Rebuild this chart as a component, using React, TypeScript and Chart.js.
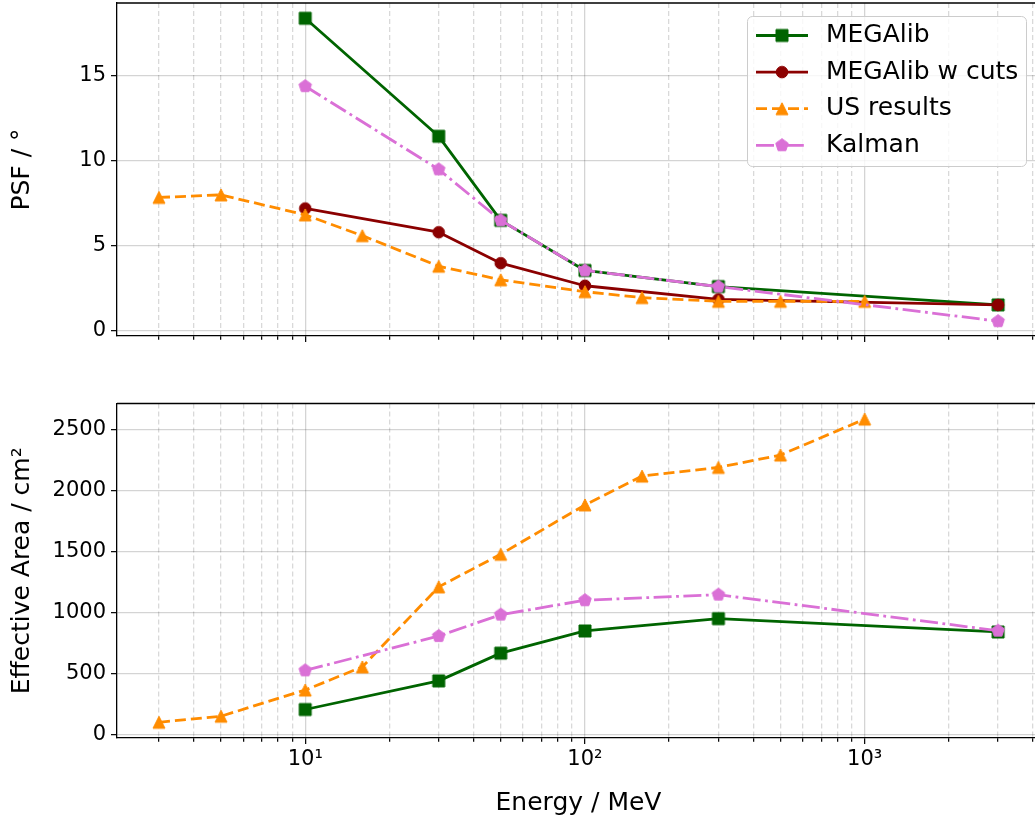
import { useEffect, useRef } from 'react';
import { Chart, registerables } from 'chart.js';

Chart.register(...registerables);

// Energies (MeV) at which each series was evaluated
const US_ENERGY = [3, 5, 10, 16, 30, 50, 100, 160, 300, 500, 1000];
const SIM_ENERGY = [10, 30, 50, 100, 300, 3000];

// PSF (degrees)
const MEGALIB_PSF = [18.4, 11.45, 6.5, 3.55, 2.6, 1.52];
const MEGALIB_CUTS_PSF = [7.2, 5.8, 3.98, 2.65, 1.85, 1.52];
const US_PSF = [7.85, 8.0, 6.82, 5.6, 3.8, 3.0, 2.3, 1.95, 1.73, 1.73, 1.73];
const KALMAN_PSF = [14.4, 9.5, 6.5, 3.55, 2.6, 0.56];

// Effective area (cm²)
const MEGALIB_AREA = [205, 440, 668, 850, 951, 842];
const US_AREA = [100, 150, 365, 555, 1212, 1480, 1885, 2122, 2193, 2295, 2590];
const KALMAN_AREA = [526, 808, 984, 1102, 1148, 852];

// Axis ticks
const X_TICKS = [
  3, 4, 5, 6, 7, 8, 9,
  10, 20, 30, 40, 50, 60, 70, 80, 90,
  100, 200, 300, 400, 500, 600, 700, 800, 900,
  1000, 2000, 3000, 4000,
];
const X_MAJOR = [10, 100, 1000];
const X_MAJOR_LABELS = ['10¹', '10²', '10³'];
const PSF_TICKS = [0, 5, 10, 15];
const AREA_TICKS = [0, 500, 1000, 1500, 2000, 2500];

// Axis ranges
const X_MIN = 2.1232;
const X_MAX = 4236;
const PSF_MIN = -0.31;
const PSF_MAX = 19.3;
const AREA_MIN = -29;
const AREA_MAX = 2718;

const FONT = 'DejaVu Sans';
const TICK_SIZE = 21;
const LABEL_SIZE = 25;
const GREEN = '#006400';
const DARKRED = '#8b0000';
const ORANGE = '#ff8c00';
const ORCHID = '#da70d6';
const GRID_MAJOR = 'rgba(0,0,0,0.17)';
const GRID_MINOR = 'rgba(0,0,0,0.15)';
const SPINE = 1.3;
const LINE_WIDTH = 2.8;
const DASHED = [11, 5];
const DASH_DOT = [18, 4.5, 2.8, 4.5];

type Shape = 'square' | 'circle' | 'triangle' | 'pentagon';

function markerCanvas(shape: Shape, color: string): HTMLCanvasElement {
  const c = document.createElement('canvas');
  c.width = 18;
  c.height = 18;
  const g = c.getContext('2d')!;
  const cx = 9;
  const cy = 9;
  g.fillStyle = color;
  g.strokeStyle = color;
  g.lineWidth = 1;
  g.beginPath();
  if (shape === 'square') {
    g.rect(cx - 6, cy - 6, 12, 12);
  } else if (shape === 'circle') {
    g.arc(cx, cy, 5.8, 0, Math.PI * 2);
  } else if (shape === 'triangle') {
    g.moveTo(cx, cy - 6);
    g.lineTo(cx + 6, cy + 6);
    g.lineTo(cx - 6, cy + 6);
    g.closePath();
  } else {
    for (let k = 0; k < 5; k++) {
      const a = (-90 + 72 * k) * (Math.PI / 180);
      const px = cx + 6.6 * Math.cos(a);
      const py = cy + 6.6 * Math.sin(a);
      if (k === 0) g.moveTo(px, py);
      else g.lineTo(px, py);
    }
    g.closePath();
  }
  g.fill();
  g.stroke();
  return c;
}

function points(xs: number[], ys: number[]) {
  return xs.map((x, i) => ({ x, y: ys[i] }));
}

function isMajorX(v: number) {
  return X_MAJOR.includes(v);
}

function xScale(showLabels: boolean, axisHeight: number) {
  return {
    type: 'logarithmic' as const,
    min: X_MIN,
    max: X_MAX,
    afterBuildTicks: (s: any) => {
      s.ticks = X_TICKS.map((v) => ({ value: v, major: isMajorX(v) }));
    },
    afterFit: (s: any) => {
      s.height = axisHeight;
      s.paddingLeft = 0;
      s.paddingRight = 0;
    },
    ticks: {
      display: showLabels,
      autoSkip: false,
      maxRotation: 0,
      minRotation: 0,
      padding: 3,
      color: '#000',
      font: { family: FONT, size: TICK_SIZE },
      callback: (v: any) => {
        const i = X_MAJOR.indexOf(Number(v));
        return i >= 0 ? X_MAJOR_LABELS[i] : '';
      },
    },
    grid: {
      color: (c: any) => (c.tick && isMajorX(c.tick.value) ? GRID_MAJOR : GRID_MINOR),
      lineWidth: 1.3,
      drawTicks: true,
      tickLength: 6,
      tickWidth: 1.2,
      tickColor: '#000',
      tickBorderDash: (c: any) => (c.tick && isMajorX(c.tick.value) ? [] : [3.5, 60]),
    },
    border: {
      display: true,
      color: '#000',
      width: SPINE,
      dash: (c: any) => (c.tick && !isMajorX(c.tick.value) ? [5, 3] : []),
    },
    title: showLabels
      ? {
          display: true,
          text: 'Energy / MeV',
          color: '#000',
          font: { family: FONT, size: LABEL_SIZE },
          padding: { top: 0, bottom: 2 },
        }
      : { display: false },
  };
}

function yScale(min: number, max: number, ticks: number[], title: string) {
  return {
    type: 'linear' as const,
    min,
    max,
    afterBuildTicks: (s: any) => {
      s.ticks = ticks.map((v) => ({ value: v }));
    },
    afterFit: (s: any) => {
      s.width = 117;
      s.paddingTop = 0;
      s.paddingBottom = 0;
    },
    ticks: {
      color: '#000',
      padding: 5,
      font: { family: FONT, size: TICK_SIZE },
      callback: (v: any) => String(v),
    },
    grid: {
      color: GRID_MAJOR,
      lineWidth: 1.3,
      tickLength: 6,
      tickWidth: 1.2,
      tickColor: '#000',
    },
    border: { display: true, color: '#000', width: SPINE },
    title: {
      display: true,
      text: title,
      color: '#000',
      font: { family: FONT, size: LABEL_SIZE },
      padding: { top: 7, bottom: 0 },
    },
  };
}

// Top and right frame lines of the plot area
const framePlugin = {
  id: 'frame',
  afterDatasetsDraw(chart: any) {
    const { ctx, chartArea: a } = chart;
    ctx.save();
    ctx.strokeStyle = '#000';
    ctx.lineWidth = SPINE;
    ctx.beginPath();
    ctx.moveTo(a.left, a.top);
    ctx.lineTo(a.right, a.top);
    ctx.lineTo(a.right, a.bottom);
    ctx.stroke();
    ctx.restore();
  },
};

// Legend box in the upper right of the PSF panel
const legendPlugin = {
  id: 'insetLegend',
  afterDraw(chart: any) {
    const { ctx } = chart;
    const x0 = 747.5;
    const y0 = 16.5;
    const w = 279;
    const h = 150;
    const r = 5;
    ctx.save();
    ctx.beginPath();
    ctx.moveTo(x0 + r, y0);
    ctx.lineTo(x0 + w - r, y0);
    ctx.arcTo(x0 + w, y0, x0 + w, y0 + r, r);
    ctx.lineTo(x0 + w, y0 + h - r);
    ctx.arcTo(x0 + w, y0 + h, x0 + w - r, y0 + h, r);
    ctx.lineTo(x0 + r, y0 + h);
    ctx.arcTo(x0, y0 + h, x0, y0 + h - r, r);
    ctx.lineTo(x0, y0 + r);
    ctx.arcTo(x0, y0, x0 + r, y0, r);
    ctx.closePath();
    ctx.fillStyle = 'rgba(255,255,255,0.8)';
    ctx.fill();
    ctx.strokeStyle = '#cccccc';
    ctx.lineWidth = 1;
    ctx.stroke();

    chart.data.datasets.forEach((ds: any, i: number) => {
      const cy = 35.5 + i * 36.6;
      ctx.strokeStyle = ds.borderColor;
      ctx.lineWidth = ds.borderWidth;
      ctx.setLineDash(ds.borderDash || []);
      ctx.beginPath();
      ctx.moveTo(756, cy);
      ctx.lineTo(808, cy);
      ctx.stroke();
      ctx.setLineDash([]);
      const img = ds.pointStyle as HTMLCanvasElement;
      ctx.drawImage(img, 782 - img.width / 2, cy - img.height / 2);
      ctx.fillStyle = '#000';
      ctx.font = `${LABEL_SIZE}px "${FONT}"`;
      ctx.textBaseline = 'middle';
      ctx.textAlign = 'left';
      ctx.fillText(ds.label, 826, cy);
    });
    ctx.restore();
  },
};

function series(label: string, data: any[], color: string, marker: HTMLCanvasElement, order: number, dash: number[]) {
  return {
    label,
    data,
    borderColor: color,
    backgroundColor: color,
    borderWidth: LINE_WIDTH,
    borderDash: dash,
    borderJoinStyle: 'round' as const,
    pointStyle: marker,
    pointRadius: 6,
    pointHoverRadius: 6,
    tension: 0,
    fill: false,
    order,
  };
}

export default function App() {
  const topRef = useRef<HTMLCanvasElement>(null);
  const bottomRef = useRef<HTMLCanvasElement>(null);

  useEffect(() => {
    const mSquare = markerCanvas('square', GREEN);
    const mCircle = markerCanvas('circle', DARKRED);
    const mTriangle = markerCanvas('triangle', ORANGE);
    const mPentagon = markerCanvas('pentagon', ORCHID);

    const common = {
      responsive: false,
      animation: false as const,
      devicePixelRatio: 1,
      events: [] as any[],
      plugins: { legend: { display: false }, tooltip: { enabled: false } },
    };

    const top = new Chart(topRef.current!, {
      type: 'line',
      data: {
        datasets: [
          series('MEGAlib', points(SIM_ENERGY, MEGALIB_PSF), GREEN, mSquare, 4, []),
          series('MEGAlib w cuts', points(SIM_ENERGY, MEGALIB_CUTS_PSF), DARKRED, mCircle, 3, []),
          series('US results', points(US_ENERGY, US_PSF), ORANGE, mTriangle, 2, DASHED),
          series('Kalman', points(SIM_ENERGY, KALMAN_PSF), ORCHID, mPentagon, 1, DASH_DOT),
        ],
      },
      options: {
        ...common,
        layout: { autoPadding: false, padding: { top: 3, right: 10, bottom: 0, left: 0 } },
        scales: {
          x: xScale(false, 9) as any,
          y: yScale(PSF_MIN, PSF_MAX, PSF_TICKS, 'PSF / °') as any,
        },
      } as any,
      plugins: [framePlugin, legendPlugin],
    });

    const bottom = new Chart(bottomRef.current!, {
      type: 'line',
      data: {
        datasets: [
          series('MEGAlib', points(SIM_ENERGY, MEGALIB_AREA), GREEN, mSquare, 4, []),
          series('US results', points(US_ENERGY, US_AREA), ORANGE, mTriangle, 2, DASHED),
          series('Kalman', points(SIM_ENERGY, KALMAN_AREA), ORCHID, mPentagon, 1, DASH_DOT),
        ],
      },
      options: {
        ...common,
        layout: { autoPadding: false, padding: { top: 58.5, right: 10, bottom: 0, left: 0 } },
        scales: {
          x: xScale(true, 82) as any,
          y: yScale(AREA_MIN, AREA_MAX, AREA_TICKS, 'Effective Area / cm²') as any,
        },
      } as any,
      plugins: [framePlugin],
    });

    return () => {
      top.destroy();
      bottom.destroy();
    };
  }, []);

  return (
    <div
      style={{
        position: 'fixed',
        left: 0,
        top: 0,
        width: 1035,
        height: 820,
        overflow: 'hidden',
        background: '#fff',
      }}
    >
      <canvas
        ref={topRef}
        width={1050}
        height={345}
        style={{ position: 'absolute', left: 0, top: 0, width: 1050, height: 345 }}
      />
      <canvas
        ref={bottomRef}
        width={1050}
        height={475}
        style={{ position: 'absolute', left: 0, top: 345, width: 1050, height: 475 }}
      />
    </div>
  );
}
